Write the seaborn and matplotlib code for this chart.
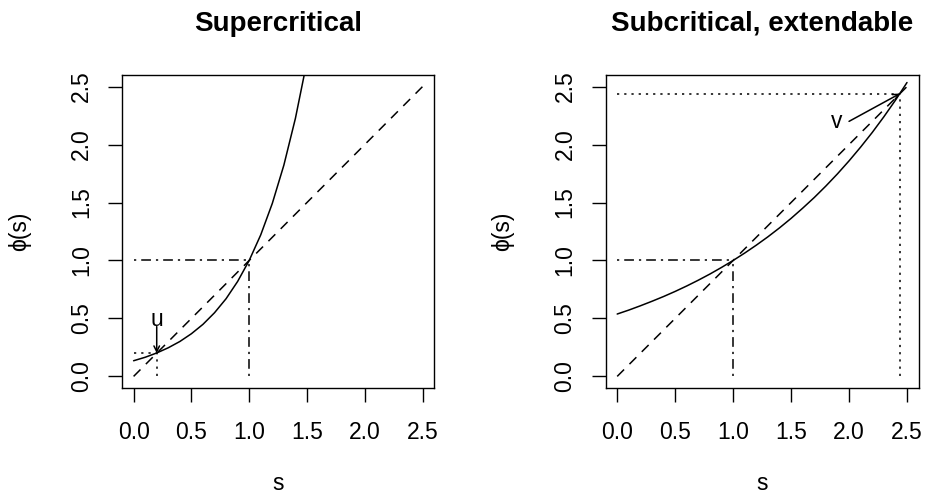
import matplotlib
matplotlib.use("Agg")
import pandas as pd
import matplotlib.pyplot as plt
import seaborn as sns
from matplotlib.ticker import FormatStrFormatter

# values
s_super = [0.0, 0.1, 0.2, 0.3, 0.4, 0.5, 0.6, 0.7, 0.8, 0.9, 1.0,
           1.1, 1.2, 1.3, 1.4, 1.5]
phi_super = [0.135, 0.165, 0.202, 0.247, 0.301, 0.368, 0.449, 0.549, 0.670,
             0.819, 1.0, 1.221, 1.492, 1.822, 2.226, 2.718]

s_sub = [0.0, 0.1, 0.2, 0.3, 0.4, 0.5, 0.6, 0.7, 0.8, 0.9, 1.0, 1.1, 1.2,
         1.3, 1.4, 1.5, 1.6, 1.7, 1.8, 1.9, 2.0, 2.1, 2.2, 2.3, 2.4, 2.5]
phi_sub = [0.538, 0.572, 0.609, 0.648, 0.689, 0.733, 0.780, 0.830, 0.883,
           0.940, 1.0, 1.064, 1.132, 1.204, 1.281, 1.363, 1.451, 1.543,
           1.642, 1.747, 1.859, 1.978, 2.104, 2.239, 2.382, 2.535]

diag_s = [0.0, 2.5]
u_fixed = 0.2
v_fixed = 2.44
tick_vals = [0.0, 0.5, 1.0, 1.5, 2.0, 2.5]
titles = ["Supercritical", "Subcritical, extendable"]

sns.set_style("ticks")
plt.rcParams['font.family'] = ['Liberation Sans', 'DejaVu Sans']
plt.rcParams['lines.scale_dashes'] = False
for key in ['text.color', 'axes.labelcolor', 'xtick.color', 'ytick.color',
            'axes.edgecolor']:
    plt.rcParams[key] = 'black'

DASHED = (0, (7.0, 5.5))
DOTTED = (0, (1.6, 3.6))
DOTDASH = (0, (1.6, 3.6, 7.0, 3.6))
FS = 16.5

fig = plt.figure(figsize=(9.26, 4.94), dpi=100)
ax1 = fig.add_axes([0.1318, 0.2146, 0.337, 0.6336])
ax2 = fig.add_axes([0.654, 0.2146, 0.338, 0.6336])

def setup(ax, title):
    ax.set_xlim(-0.1, 2.6)
    ax.set_ylim(-0.1, 2.6)
    ax.set_xticks(tick_vals)
    ax.set_yticks(tick_vals)
    ax.xaxis.set_major_formatter(FormatStrFormatter('%.1f'))
    ax.yaxis.set_major_formatter(FormatStrFormatter('%.1f'))
    ax.tick_params(direction='out', length=10, width=1, color='black',
                   labelcolor='black', labelsize=FS)
    ax.tick_params(axis='x', pad=14)
    ax.tick_params(axis='y', pad=11)
    for lab in ax.get_yticklabels():
        lab.set_rotation(90)
        lab.set_va('center')
    for sp in ax.spines.values():
        sp.set_visible(True)
        sp.set_color('black')
        sp.set_linewidth(1)
    ax.set_xlabel("s", fontsize=FS, labelpad=20, color='black')
    ax.set_ylabel("\u03d5(s)", fontsize=FS, labelpad=28, color='black')
    ax.set_title(title, fontsize=20, fontweight='bold', pad=32, color='black')
    ax.set_facecolor('white')

# left panel
df1 = pd.DataFrame({"s": s_super, "phi": phi_super})
sns.lineplot(data=df1, x="s", y="phi", ax=ax1, color='black', lw=1.1)
sns.lineplot(x=diag_s, y=diag_s, ax=ax1, color='black', lw=1.1, linestyle=DASHED)
ax1.plot([0, 1], [1, 1], color='black', lw=1.1, linestyle=DOTDASH)
ax1.plot([1, 1], [0, 1], color='black', lw=1.1, linestyle=DOTDASH)
ax1.plot([0, u_fixed], [u_fixed, u_fixed], color='black', lw=1.1, linestyle=DOTTED)
ax1.plot([u_fixed, u_fixed], [0, u_fixed], color='black', lw=1.1, linestyle=DOTTED)
ax1.annotate("", xy=(u_fixed, u_fixed), xytext=(u_fixed, 0.43),
             arrowprops=dict(arrowstyle='->', lw=1.1, color='black',
                             shrinkA=0, shrinkB=0, mutation_scale=10))
ax1.text(u_fixed, 0.49, "u", fontsize=FS, ha='center', va='center')
setup(ax1, titles[0])

# right panel
df2 = pd.DataFrame({"s": s_sub, "phi": phi_sub})
sns.lineplot(data=df2, x="s", y="phi", ax=ax2, color='black', lw=1.1)
sns.lineplot(x=diag_s, y=diag_s, ax=ax2, color='black', lw=1.1, linestyle=DASHED)
ax2.plot([0, 1], [1, 1], color='black', lw=1.1, linestyle=DOTDASH)
ax2.plot([1, 1], [0, 1], color='black', lw=1.1, linestyle=DOTDASH)
ax2.plot([0, v_fixed], [v_fixed, v_fixed], color='black', lw=1.1, linestyle=DOTTED)
ax2.plot([v_fixed, v_fixed], [0, v_fixed], color='black', lw=1.1, linestyle=DOTTED)
ax2.annotate("", xy=(v_fixed, v_fixed), xytext=(2.0, 2.2),
             arrowprops=dict(arrowstyle='->', lw=1.1, color='black',
                             shrinkA=0, shrinkB=0, mutation_scale=10))
ax2.text(1.89, 2.2, "v", fontsize=FS, ha='center', va='center')
setup(ax2, titles[1])

fig.savefig("out.png", dpi=100, facecolor='white')
